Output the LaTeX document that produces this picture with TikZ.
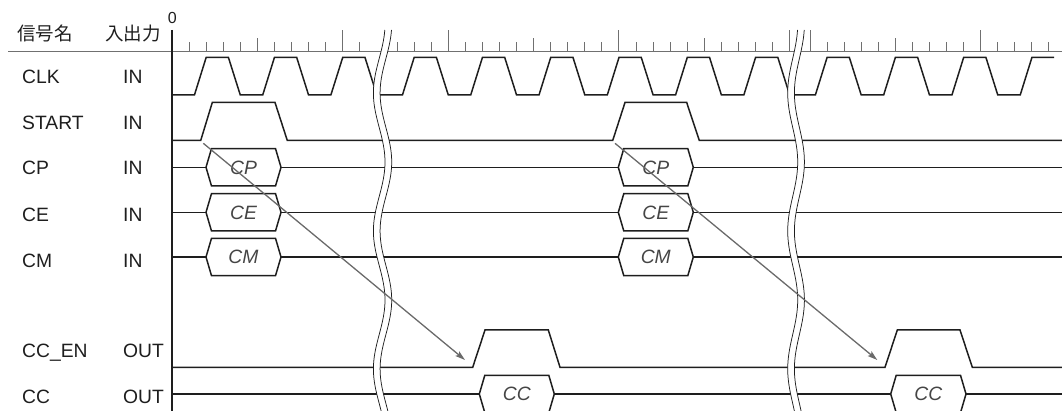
\documentclass[tikz,border=0pt]{standalone}
\usepackage{fontspec}
\setmainfont{Liberation Sans}
\newfontfamily\cjkfont{Noto Sans CJK JP}
\usetikzlibrary{arrows.meta}
\definecolor{sig}{HTML}{1E1E1E}
\definecolor{tickc}{HTML}{707070}
\definecolor{arr}{HTML}{6A6A6A}
\definecolor{hexlbl}{HTML}{454545}

\newcommand\hexbus[5]{% name, x1, x2, y, label
  \draw[wave] (#2,#4) -- (#2+5.5,#4-18.7) -- (#3-5.5,#4-18.7) -- (#3,#4)
    -- (#3-5.5,#4+18.7) -- (#2+5.5,#4+18.7) -- cycle;
  \node[hexlab] (#1) at ({(#2+#3)/2},#4+6.8) {#5};
}
\newcommand\wavybreak[2]{% center, amplitude
  \fill[white] plot[domain=30:413, samples=120, variable=\t] ({#1+#2*cos(2.608696*(\t-162))},\t)
    -- plot[domain=413:30, samples=120, variable=\t] ({#1+6.7+#2*cos(2.608696*(\t-162))},\t) -- cycle;
  \draw[brkline] plot[domain=30:413, samples=120, variable=\t] ({#1+#2*cos(2.608696*(\t-162))},\t);
  \draw[brkline] plot[domain=30:413, samples=120, variable=\t] ({#1+6.7+#2*cos(2.608696*(\t-162))},\t);
}

\begin{document}
\begin{tikzpicture}[x=1pt,y=-1pt,
  wave/.style={draw=sig, line width=1.5pt, line join=miter},
  axisline/.style={draw=sig, line width=1.1pt},
  tickline/.style={draw=tickc, line width=1pt},
  brkline/.style={draw=sig, line width=0.75pt},
  arrowline/.style={draw=arr, line width=1.3pt, -{Stealth[length=10pt,width=6pt,inset=2pt]}},
  lbl/.style={anchor=base west, inner sep=0pt, text=sig, font=\fontsize{19.3}{21}\selectfont},
  cjklbl/.style={anchor=base west, inner sep=0pt, text=sig, font=\cjkfont\fontsize{18.5}{21}\selectfont},
  hexlab/.style={anchor=base, inner sep=0pt, text=hexlbl, font=\itshape\fontsize{19.3}{21}\selectfont},
]
\useasboundingbox (0,0) rectangle (1062,411);

% header
\node[cjklbl] (hname) at (17,40.5) {信号名};
\node[cjklbl] (hio) at (105,40.5) {入出力};
\node[anchor=base, inner sep=0pt, text=sig, font=\fontsize{16}{18}\selectfont] (zero) at (172.3,23.8) {0};
\draw[tickline] (8,52) -- (1062,52);

% ticks section 1
\foreach \k in {1,2,3,4,6,7,8,9,11} \draw[tickline] ({172+17.07*\k},52) -- ++(0,-10);
\foreach \k in {5} \draw[tickline] ({172+17.07*\k},52) -- ++(0,-14);
\foreach \k in {10} \draw[tickline] ({172+17.07*\k},52) -- ++(0,-22);
% ticks section 2
\foreach \k in {0,1,2,4,5,6,7,9,10,11,12,14,15,16,17,19,20,21,22} \draw[tickline] ({397.07+17.07*\k},52) -- ++(0,-10);
\foreach \k in {8,18} \draw[tickline] ({397.07+17.07*\k},52) -- ++(0,-14);
\foreach \k in {3,13,23} \draw[tickline] ({397.07+17.07*\k},52) -- ++(0,-22);
% ticks section 3
\foreach \k in {1,2,3,4,6,7,8,9,11,12,13,14} \draw[tickline] ({810+17.07*\k},52) -- ++(0,-10);
\foreach \k in {5} \draw[tickline] ({810+17.07*\k},52) -- ++(0,-14);
\foreach \k in {0,10} \draw[tickline] ({810+17.07*\k},52) -- ++(0,-22);

% axis
\draw[axisline] (172,30) -- (172,412);

% CLK
\draw[wave] (172,95) -- (194.44,95) -- (206.14,57.5) -- (228.44,57.5) -- (240.28,95) -- (262.72,95) -- (274.42,57.5) -- (296.72,57.5) -- (308.56,95) -- (330.86,95) -- (342.70,57.5) -- (365.0,57.5) -- (376.84,95)
 -- (402.44,95) -- (414.14,57.5) -- (436.44,57.5) -- (448.28,95) -- (470.72,95) -- (482.42,57.5) -- (504.72,57.5) -- (516.56,95) -- (539.00,95) -- (550.70,57.5) -- (573.00,57.5) -- (584.84,95) -- (607.28,95) -- (618.98,57.5) -- (641.28,57.5) -- (653.12,95) -- (675.56,95) -- (687.26,57.5) -- (709.56,57.5) -- (721.40,95) -- (743.84,95) -- (755.54,57.5) -- (777.84,57.5) -- (789.68,95)
 -- (815.37,95) -- (827.07,57.5) -- (849.37,57.5) -- (861.21,95) -- (883.65,95) -- (895.35,57.5) -- (917.65,57.5) -- (929.49,95) -- (951.93,95) -- (963.63,57.5) -- (985.93,57.5) -- (997.77,95) -- (1020.21,95) -- (1031.91,57.5) -- (1054.0,57.5);

% START
\draw[wave] (172,140.5) -- (200.7,140.5) -- (212.3,102.5) -- (275,102.5) -- (287.3,140.5) -- (612.7,140.5) -- (625,102.5) -- (686.7,102.5) -- (699.3,140.5) -- (1062,140.5);

% CP, CE, CM buses
\foreach \y in {167.3,212.3,257} {
  \draw[wave] (172,\y) -- (206,\y);
  \draw[wave] (281,\y) -- (618.3,\y);
  \draw[wave] (693.3,\y) -- (1062,\y);
}
\hexbus{cp1}{206}{281}{167.3}{CP}
\hexbus{cp2}{618.3}{693.3}{167.3}{CP}
\hexbus{ce1}{206}{281}{212.3}{CE}
\hexbus{ce2}{618.3}{693.3}{212.3}{CE}
\hexbus{cm1}{206}{281}{257}{CM}
\hexbus{cm2}{618.3}{693.3}{257}{CM}

% CC_EN
\draw[wave] (172,367.3) -- (472.7,367.3) -- (485,330) -- (548.3,330) -- (560,367.3) -- (885,367.3) -- (897.3,330) -- (960,330) -- (972.3,367.3) -- (1062,367.3);

% CC
\draw[wave] (172,394) -- (479.3,394);
\draw[wave] (554.3,394) -- (890.7,394);
\draw[wave] (966,394) -- (1062,394);
\hexbus{cc1}{479.3}{554.3}{394}{CC}
\hexbus{cc2}{890.7}{966}{394}{CC}

% breaks
\wavybreak{379.2}{5.8}
\wavybreak{792.7}{5.0}

% signal names
\node[lbl] (nclk) at (22,84) {CLK};
\node[lbl] (nstart) at (22,129.3) {START};
\node[lbl] (ncp) at (22,175) {CP};
\node[lbl] (nce) at (22,221.7) {CE};
\node[lbl] (ncm) at (22,267.3) {CM};
\node[lbl] (nccen) at (22,357.3) {CC\_EN};
\node[lbl] (ncc) at (22,403.3) {CC};
% io
\node[lbl] (iclk) at (123,84) {IN};
\node[lbl] (istart) at (123,129.3) {IN};
\node[lbl] (icp) at (123,175) {IN};
\node[lbl] (ice) at (123,221.7) {IN};
\node[lbl] (icm) at (123,267.3) {IN};
\node[lbl] (iccen) at (123,357.3) {OUT};
\node[lbl] (icc) at (123,403.3) {OUT};

% arrows
\coordinate (a1s) at (203.3,143.3);
\coordinate (a1e) at (465,360);
\coordinate (a2s) at (615,143.3);
\coordinate (a2e) at (877.3,360);
\draw[arrowline] (a1s) -- (a1e);
\draw[arrowline] (a2s) -- (a2e);
\end{tikzpicture}
\end{document}
